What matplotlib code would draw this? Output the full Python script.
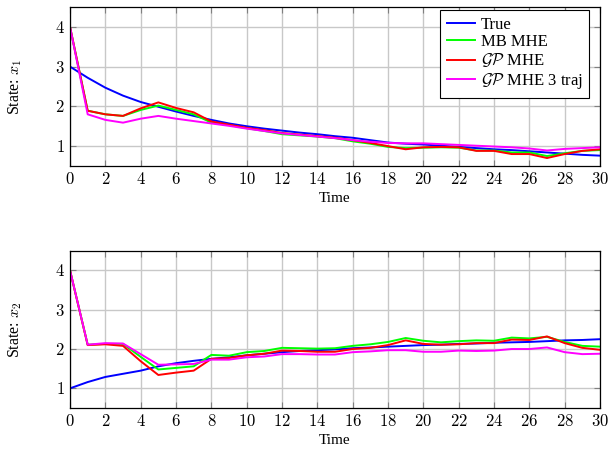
import matplotlib
matplotlib.use("Agg")
import matplotlib.pyplot as plt

plt.rcParams['font.family'] = ['Liberation Serif', 'DejaVu Serif']
plt.rcParams['mathtext.fontset'] = 'cm'

t = list(range(31))

x1_true = [3.0, 2.72, 2.47, 2.27, 2.11, 1.99, 1.87, 1.76, 1.66, 1.57, 1.50, 1.44, 1.39, 1.34, 1.30, 1.25,
           1.21, 1.15, 1.09, 1.06, 1.04, 1.01, 0.98, 0.95, 0.92, 0.90, 0.87, 0.84, 0.81, 0.78, 0.76]
x1_mb = [4.0, 1.89, 1.80, 1.76, 1.91, 2.02, 1.91, 1.80, 1.59, 1.53, 1.45, 1.38, 1.30, 1.27, 1.24, 1.20,
         1.12, 1.06, 0.98, 0.95, 0.96, 0.97, 0.96, 0.89, 0.89, 0.84, 0.84, 0.75, 0.82, 0.88, 0.90]
x1_gp = [4.0, 1.89, 1.80, 1.76, 1.95, 2.10, 1.96, 1.85, 1.62, 1.54, 1.46, 1.40, 1.33, 1.29, 1.25, 1.21,
         1.15, 1.08, 1.00, 0.92, 0.97, 0.98, 0.97, 0.88, 0.88, 0.80, 0.80, 0.70, 0.80, 0.88, 0.92]
x1_gp3 = [4.0, 1.80, 1.66, 1.59, 1.69, 1.76, 1.69, 1.63, 1.57, 1.51, 1.44, 1.38, 1.32, 1.28, 1.24, 1.20,
          1.15, 1.11, 1.08, 1.07, 1.07, 1.05, 1.03, 1.01, 0.99, 0.97, 0.94, 0.89, 0.93, 0.95, 0.97]

x2_true = [1.0, 1.16, 1.29, 1.37, 1.45, 1.56, 1.64, 1.70, 1.75, 1.79, 1.84, 1.88, 1.92, 1.95, 1.97, 1.99,
           2.02, 2.04, 2.06, 2.08, 2.10, 2.11, 2.13, 2.14, 2.16, 2.17, 2.18, 2.20, 2.22, 2.23, 2.25]
x2_mb = [4.0, 2.11, 2.13, 2.13, 1.80, 1.48, 1.52, 1.56, 1.85, 1.83, 1.92, 1.95, 2.03, 2.02, 2.01, 2.02,
         2.08, 2.12, 2.18, 2.28, 2.21, 2.17, 2.20, 2.22, 2.21, 2.29, 2.27, 2.31, 2.18, 2.08, 2.06]
x2_gp = [4.0, 2.10, 2.12, 2.08, 1.69, 1.34, 1.40, 1.45, 1.75, 1.77, 1.84, 1.88, 1.96, 1.95, 1.93, 1.93,
         2.00, 2.03, 2.10, 2.22, 2.13, 2.11, 2.12, 2.15, 2.15, 2.24, 2.23, 2.32, 2.15, 2.03, 1.98]
x2_gp3 = [4.0, 2.11, 2.15, 2.14, 1.87, 1.60, 1.61, 1.62, 1.73, 1.73, 1.79, 1.81, 1.87, 1.87, 1.86, 1.86,
          1.92, 1.94, 1.97, 1.97, 1.93, 1.93, 1.96, 1.95, 1.96, 2.00, 2.00, 2.04, 1.92, 1.87, 1.88]

labels = ['True', 'MB MHE', r'$\mathcal{GP}$ MHE', r'$\mathcal{GP}$ MHE 3 traj']
colors = ['#0000ff', '#00ff00', '#ff0000', '#ff00ff']
xticks = list(range(0, 31, 2))
yticks = [1, 2, 3, 4]

fig = plt.figure(figsize=(6.11, 4.53), dpi=100)
ax1 = fig.add_axes([0.1146, 0.6336, 0.8674, 0.3509])
ax2 = fig.add_axes([0.1146, 0.0993, 0.8674, 0.3473])

for ax, series, ylab in [(ax1, [x1_true, x1_mb, x1_gp, x1_gp3], r'State: $x_1$'),
                         (ax2, [x2_true, x2_mb, x2_gp, x2_gp3], r'State: $x_2$')]:
    for s, c, lab in zip(series, colors, labels):
        ax.plot(t, s, color=c, lw=1.4, label=lab)
    ax.set_xlim(0, 30)
    ax.set_ylim(0.5, 4.5)
    ax.set_xticks(xticks)
    ax.set_xticklabels([f'${v}$' for v in xticks])
    ax.set_yticks(yticks)
    ax.set_yticklabels([f'${v}$' for v in yticks])
    ax.grid(True, color='#c8c8c8', lw=1.0)
    ax.set_axisbelow(True)
    ax.tick_params(direction='in', top=True, right=True, labelsize=12, length=4, color='#808080', pad=4)
    ax.set_xlabel('Time', fontsize=11, labelpad=3)
    ax.set_ylabel(ylab, fontsize=11.5)
    ax.yaxis.set_label_coords(-0.087, 0.5)
    for sp in ax.spines.values():
        sp.set_linewidth(0.9)

leg = ax1.legend(loc='upper right', bbox_to_anchor=(0.98, 0.98), fontsize=12, frameon=True,
                 fancybox=False, edgecolor='black', framealpha=1, borderpad=0.4, labelspacing=0.08,
                 handlelength=1.7, handletextpad=0.35, borderaxespad=0.0)
leg.get_frame().set_linewidth(0.8)

fig.savefig('out.png', dpi=100)
